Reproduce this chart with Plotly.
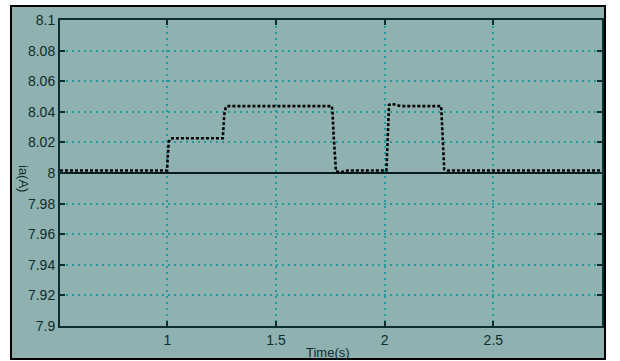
import plotly.graph_objects as go

# Armature current response and its 8 A reference
time_s = [0.506, 0.999, 1.0, 1.002, 1.006, 1.012, 1.025, 1.255, 1.257, 1.262,
          1.268, 1.275, 1.757, 1.760, 1.765, 1.770, 1.776, 1.800, 1.830, 2.008,
          2.011, 2.016, 2.020, 2.034, 2.075, 2.260, 2.264, 2.270, 2.274, 2.290,
          2.600, 3.000]
ia_A = [8.0016, 8.0016, 8.006, 8.016, 8.020, 8.0222, 8.0227, 8.0227, 8.030, 8.038,
        8.0425, 8.0437, 8.0437, 8.040, 8.025, 8.012, 8.001, 8.0006, 8.0016, 8.0016,
        8.015, 8.035, 8.0445, 8.0452, 8.0437, 8.0437, 8.030, 8.012, 8.0025, 8.0016,
        8.0018, 8.0016]

ref_time = [0.506, 3.0]
ref_ia = [8.0, 8.0]

x_ticks = [1, 1.5, 2, 2.5]
x_tick_text = ["1", "1.5", "2", "2.5"]
y_ticks = [7.9, 7.92, 7.94, 7.96, 7.98, 8.0, 8.02, 8.04, 8.06, 8.08, 8.1]
y_tick_text = ["7.9", "7.92", "7.94", "7.96", "7.98", "8", "8.02", "8.04", "8.06", "8.08", "8.1"]

BG = "#8fb1b0"
INK = "#0b2e2e"
GRID = "#239b9b"
FONT = "Liberation Sans, Arial, sans-serif"

fig = go.Figure()
fig.add_trace(go.Scatter(x=ref_time, y=ref_ia, mode="lines",
                         line=dict(color="#061c1c", width=2.2),
                         hoverinfo="skip", showlegend=False))
fig.add_trace(go.Scatter(x=time_s, y=ia_A, mode="lines",
                         line=dict(color="#000000", width=2.6, dash="3px,2px"),
                         showlegend=False))

axis_common = dict(
    showline=True, linecolor=INK, linewidth=2, mirror="ticks",
    ticks="inside", ticklen=5, tickwidth=2, tickcolor=INK,
    showgrid=True, gridcolor=GRID, griddash="2px,4px", gridwidth=1.5,
    zeroline=False,
    tickfont=dict(family=FONT, size=14, color=INK),
)

fig.update_xaxes(range=[0.506, 3.0], tickvals=x_ticks, ticktext=x_tick_text,
                 **axis_common)
fig.update_yaxes(range=[7.9, 8.1], tickvals=y_ticks, ticktext=y_tick_text,
                 **axis_common)

# Panel behind the axes, with a black frame
fig.add_shape(type="rect", xref="paper", yref="paper",
              x0=(11 - 60) / 542, x1=(605 - 60) / 542,
              y0=(326 - 359) / 306, y1=(326 - 6) / 306,
              fillcolor=BG, line=dict(color="#000000", width=2), layer="below")

fig.add_annotation(text="ia(A)", xref="paper", yref="paper",
                   x=(23 - 60) / 542, y=(326 - 178) / 306,
                   xanchor="center", yanchor="middle",
                   showarrow=False, textangle=90,
                   font=dict(family=FONT, size=13, color=INK))
fig.add_annotation(text="Time(s)", xref="paper", yref="paper",
                   x=(328 - 60) / 542, y=(326 - 352) / 306,
                   xanchor="center", yanchor="middle",
                   showarrow=False,
                   font=dict(family=FONT, size=13, color=INK))

fig.update_layout(
    width=620, height=361,
    margin=dict(l=60, r=18, t=20, b=35),
    paper_bgcolor="#ffffff", plot_bgcolor=BG,
    font=dict(family=FONT, size=13, color=INK),
)

fig.write_html("out.html")
